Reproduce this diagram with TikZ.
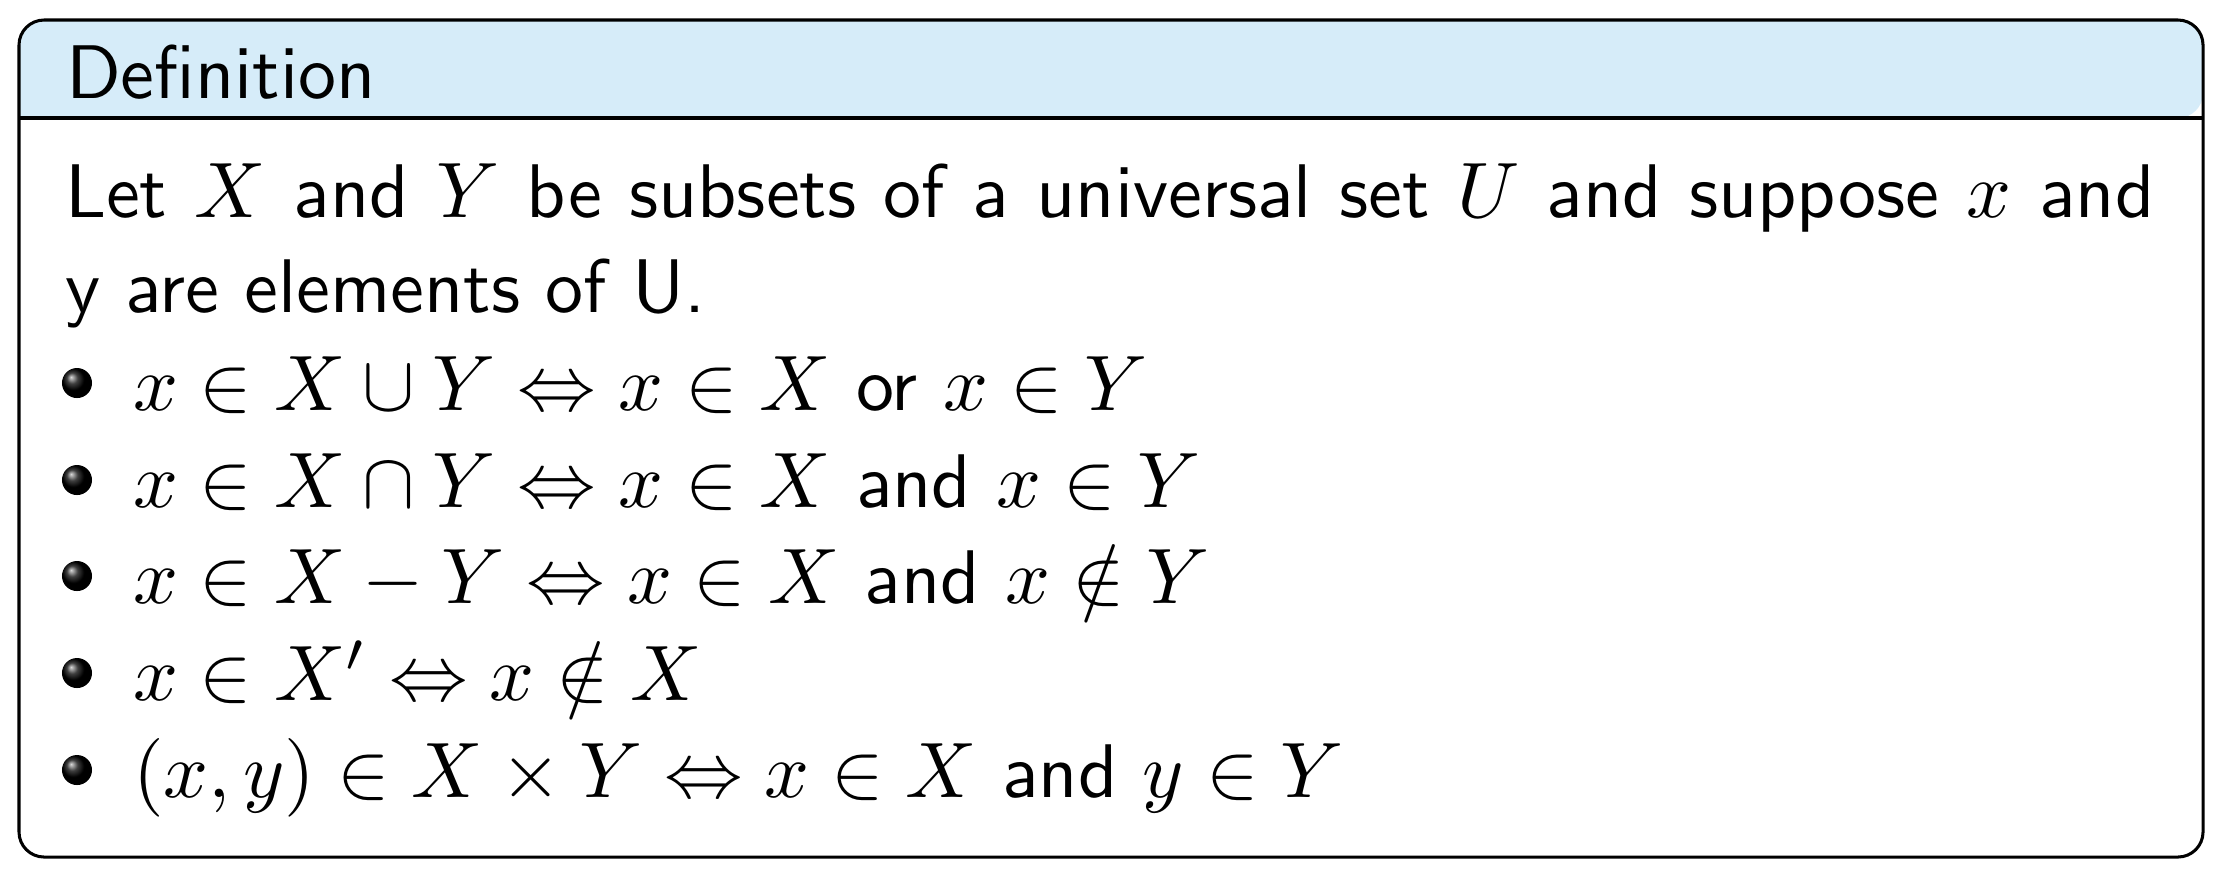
\RequirePackage{fix-cm}
\documentclass[tikz,border=0pt]{standalone}
\usepackage{amssymb}
\usepackage{tikz}
\definecolor{blockhead}{RGB}{214,236,249}
\newcommand{\mathsz}{\fontsize{10.35}{12}\selectfont} % formulas come out a little larger
\tikzset{
every node/.style={inner sep=0pt, outer sep=0pt, anchor=base west}, % text sits on its baseline
blocktext/.style={font=\sffamily\fontsize{10}{12}\selectfont}, % the block's text
bulletball/.style={circle, anchor=center, minimum size=3.95pt, ball color=black}, % beamer ball bullet
frame/.style={draw=black, line width=0.4pt, rounded corners=3.3pt}, % border of the block
}

\begin{document}
\begin{tikzpicture}[x=0.13158pt, y=-0.13158pt]
                \useasboundingbox (0,0) rectangle (2216,874);
                % title bar and body of the block
                \fill[blockhead] (19,118) [rounded corners=3.3pt] -- (19,20) -- (2203,20) -- (2203,118) [sharp corners] -- cycle;
                \draw[frame] (19,20) rectangle (2203,857);
                \draw[frame] (19,118) -- (2203,118);
                \node[blocktext] (title) at (66,98) {Definition};
                % the text
                \node[blocktext] (l1) at (65,217) {\makebox[274.9pt][s]{Let {\mathsz$X$} and {\mathsz$Y$} be subsets of a universal set {\mathsz$U$} and suppose {\mathsz$x$} and}};
                \node[blocktext] (l2) at (65,312) {y are elements of U.};
                \node[blocktext] (i1) at (133,410) {{\mathsz$x \in X \cup Y \Leftrightarrow x \in X$} or {\mathsz$x \in Y$}};
                \node[blocktext] (i2) at (133,507) {{\mathsz$x \in X \cap Y \Leftrightarrow x \in X$} and {\mathsz$x \in Y$}};
                \node[blocktext] (i3) at (133,603) {{\mathsz$x \in X - Y \Leftrightarrow x \in X$} and {\mathsz$x \notin Y$}};
                \node[blocktext] (i4) at (133,700) {{\mathsz$x \in X' \Leftrightarrow x \notin X$}};
                \node[blocktext] (i5) at (133,797) {{\mathsz$(x, y) \in X \times Y \Leftrightarrow x \in X$} and {\mathsz$y \in Y$}};
                % bullets
                \foreach \i/\y in {1/383, 2/480, 3/576, 4/673, 5/770}
                    \node[bulletball] (b\i) at (77,\y) {};
                \end{tikzpicture}
\end{document}
